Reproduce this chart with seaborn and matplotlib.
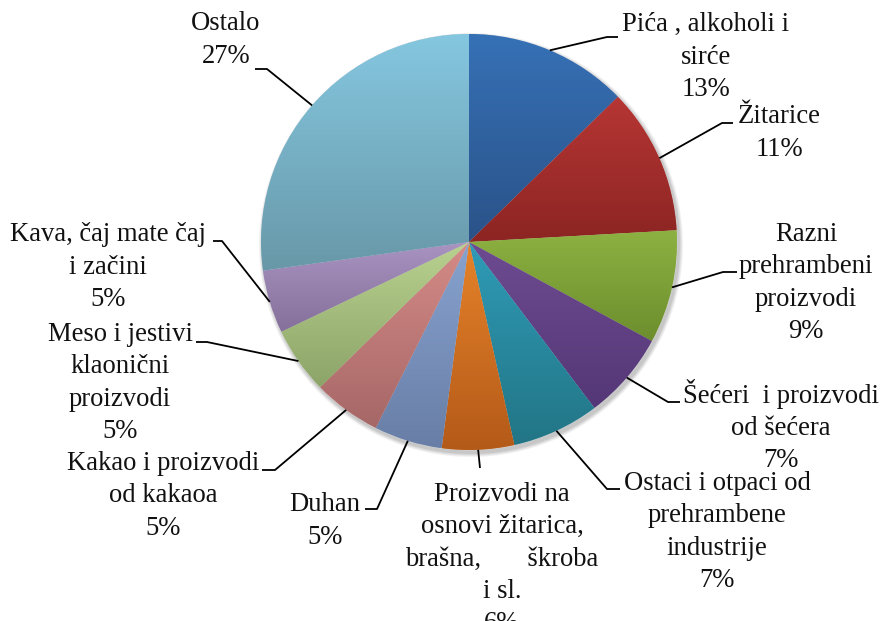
import numpy as np
import matplotlib
matplotlib.use('Agg')
import matplotlib.pyplot as plt
import matplotlib.colors as mcolors
from matplotlib.patches import Circle
import seaborn as sns

# Data (shares, percent)
categories = [
    'Pića , alkoholi i\nsirće',
    'Žitarice',
    'Razni\nprehrambeni\nproizvodi',
    'Šećeri  i proizvodi\nod šećera',
    'Ostaci i otpaci od\nprehrambene\nindustrije',
    'Proizvodi na\nosnovi žitarica,\nbrašna,       škroba\ni sl.',
    'Duhan',
    'Kakao i proizvodi\nod kakaoa',
    'Meso i jestivi\nklaonični\nproizvodi',
    'Kava, čaj mate čaj\ni začini',
    'Ostalo',
]
shares = [12.7, 11.4, 8.8, 6.8, 6.8, 5.6, 5.3, 5.3, 5.2, 4.9, 27.2]

# gradient colours per slice (top, bottom)
top_colors = ['#3671b6', '#b63634', '#8db141', '#6e4b91', '#2f9bb7', '#e6832a',
              '#88a3d0', '#d58b87', '#b9d290', '#a993c1', '#85c7e0']
bottom_colors = ['#2a5288', '#8c2523', '#6c8e2e', '#543776', '#227585', '#b45a19',
                 '#687ea6', '#a66767', '#8ca468', '#84709a', '#6898a8']

# label layout (pixel coords: text centre, elbow, end of leader)
label_pos = [(706, 57), (779, 133), (806, 283), (781, 426), (717, 532), (502, 559),
             (325, 521), (163, 496), (120, 383), (108, 267), (226, 40)]
elbows = [(607, 37), (722, 123), (723, 272), (668, 402), (607, 489), (480, 468),
          (377, 509), (275, 470), (207, 342), (222, 241), (267, 69)]
ends = [(618, 37), (733, 123), (737, 272), (680, 402), (620, 489), (480, 468),
        (365, 509), (262, 470), (196, 342), (213, 241), (255, 69)]

W, H = 883, 621
CX, CY, R = 469, 242, 208

sns.set_theme(style="white")
plt.rcParams['font.family'] = ['Liberation Serif', 'DejaVu Serif']

fig = plt.figure(figsize=(W / 100, H / 100), dpi=100)
ax = fig.add_axes([0, 0, 1, 1])

# soft shadow below the pie
for i, a in enumerate([0.05, 0.05, 0.06, 0.07]):
    ax.add_patch(Circle((CX + 2, CY + 3), R + 4 - i, color='black', alpha=a, lw=0, zorder=0))

wedges, _ = ax.pie(shares, startangle=-90, counterclock=True, center=(CX, CY), radius=R,
                   colors=top_colors, wedgeprops=dict(linewidth=0.4, edgecolor='#e0e0e0'),
                   frame=True)

for w, c0, c1 in zip(wedges, top_colors, bottom_colors):
    bb = w.get_path().get_extents()
    t = np.linspace(0, 1, 128)[:, None, None]
    rgb = (1 - t) * np.array(mcolors.to_rgb(c0)) + t * np.array(mcolors.to_rgb(c1))
    rgb = np.repeat(rgb, 2, axis=1)
    im = ax.imshow(rgb, extent=(bb.x0, bb.x1, bb.y1, bb.y0), origin='upper',
                   aspect='auto', interpolation='bilinear', zorder=w.get_zorder() + 0.1)
    im.set_clip_path(w)

ax.set_xlim(0, W)
ax.set_ylim(H, 0)
ax.axis('off')

for w, cat, val, (tx, ty), (ex, ey), (lx, ly) in zip(wedges, categories, shares,
                                                     label_pos, elbows, ends):
    mid = np.deg2rad((w.theta1 + w.theta2) / 2)
    sx, sy = CX + R * np.cos(mid), CY + R * np.sin(mid)
    ax.plot([sx, ex, lx], [sy, ey, ly], color='black', lw=1.3, zorder=5,
            solid_capstyle='butt')
    ax.text(tx, ty, f'{cat}\n{round(val):.0f}%', ha='center', va='center',
            multialignment='center', fontsize=19.2, linespacing=1.38, color='#111111',
            zorder=6)

fig.savefig('out.png', dpi=100, facecolor='white')
